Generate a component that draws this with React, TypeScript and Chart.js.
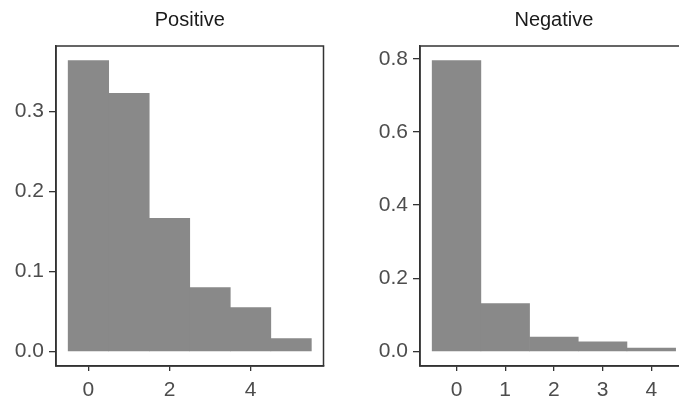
import React, { useEffect, useRef } from "react";
import { Chart, registerables } from "chart.js";

Chart.register(...registerables);

const posBins = [0, 1, 2, 3, 4, 5];
const posDensity = [0.364, 0.323, 0.1665, 0.08, 0.055, 0.016];
const posXTicks = [0, 2, 4];
const posYTicks = [0, 0.1, 0.2, 0.3];

const negBins = [0, 1, 2, 3, 4];
const negDensity = [0.795, 0.131, 0.039, 0.026, 0.009];
const negXTicks = [0, 1, 2, 3, 4];
const negYTicks = [0, 0.2, 0.4, 0.6, 0.8];

const FONT = "'Liberation Sans', Arial, sans-serif";
const BAR = "#898989";
const AXIS = "#333333";

function expand(min: number, max: number, f = 0.05) {
  const d = (max - min) * f;
  return [min - d, max + d];
}

type PanelProps = {
  title: string;
  bins: number[];
  values: number[];
  xTicks: number[];
  yTicks: number[];
  left: number;
  width: number;
  yAxisWidth: number;
  padRight: number;
};

function Panel(p: PanelProps) {
  const ref = useRef<HTMLCanvasElement | null>(null);
  useEffect(() => {
    if (!ref.current) return;
    const [xmin, xmax] = expand(Math.min(...p.bins) - 0.5, Math.max(...p.bins) + 0.5);
    const [ymin, ymax] = expand(0, Math.max(...p.values));
    const titlePlugin = {
      id: "panelTitle",
      afterDraw(chart: any) {
        const { ctx, chartArea } = chart;
        ctx.save();
        ctx.strokeStyle = AXIS;
        ctx.lineWidth = 1.5;
        ctx.strokeRect(chartArea.left, chartArea.top, chartArea.right - chartArea.left, chartArea.bottom - chartArea.top);
        ctx.fillStyle = "#1a1a1a";
        ctx.font = `20px ${FONT}`;
        ctx.textAlign = "center";
        ctx.textBaseline = "alphabetic";
        ctx.fillText(p.title, (chartArea.left + chartArea.right) / 2, 26);
        ctx.restore();
      },
    };
    const chart = new Chart(ref.current, {
      type: "bar",
      data: {
        datasets: [
          {
            data: p.bins.map((x, i) => ({ x, y: p.values[i] })),
            backgroundColor: BAR,
            borderWidth: 0,
            barPercentage: 1,
            categoryPercentage: 1,
          } as any,
        ],
      },
      options: {
        responsive: false,
        animation: false,
        devicePixelRatio: 1,
        layout: { padding: { top: 46, right: p.padRight, bottom: 0, left: 0 } },
        plugins: { legend: { display: false }, tooltip: { enabled: false }, title: { display: false } },
        scales: {
          x: {
            type: "linear",
            min: xmin,
            max: xmax,
            offset: false,
            afterBuildTicks: (s: any) => {
              s.ticks = p.xTicks.map((v) => ({ value: v }));
            },
            afterFit: (s: any) => {
              s.height = 35;
            },
            grid: { offset: false, drawOnChartArea: false, drawTicks: true, tickLength: 5, color: AXIS, lineWidth: 1.3 },
            border: { display: true, color: AXIS, width: 1.5 },
            ticks: {
              color: "#4d4d4d",
              font: { family: FONT, size: 21 },
              padding: 7,
              maxRotation: 0,
              autoSkip: false,
              callback: (v: any) => String(v),
            },
          },
          y: {
            type: "linear",
            min: ymin,
            max: ymax,
            afterBuildTicks: (s: any) => {
              s.ticks = p.yTicks.map((v) => ({ value: v }));
            },
            afterFit: (s: any) => {
              s.width = p.yAxisWidth;
            },
            grid: { drawOnChartArea: false, drawTicks: true, tickLength: 7, color: AXIS, lineWidth: 1.3 },
            border: { display: true, color: AXIS, width: 1.5 },
            ticks: {
              color: "#4d4d4d",
              font: { family: FONT, size: 21 },
              padding: 5,
              autoSkip: false,
              callback: (v: any) => Number(v).toFixed(1),
            },
          },
        },
      } as any,
      plugins: [titlePlugin],
    });
    return () => chart.destroy();
  }, []);
  return (
    <canvas
      ref={ref}
      width={p.width}
      height={401}
      style={{ position: "absolute", left: p.left, top: 0, width: p.width, height: 401 }}
    />
  );
}

export default function App() {
  return (
    <div
      style={{
        position: "fixed",
        left: 0,
        top: 0,
        width: 679,
        height: 401,
        overflow: "hidden",
        background: "#ffffff",
      }}
    >
      <Panel
        title="Positive"
        bins={posBins}
        values={posDensity}
        xTicks={posXTicks}
        yTicks={posYTicks}
        left={0}
        width={340}
        yAxisWidth={56}
        padRight={16.5}
      />
      <Panel
        title="Negative"
        bins={negBins}
        values={negDensity}
        xTicks={negXTicks}
        yTicks={negYTicks}
        left={360}
        width={340}
        yAxisWidth={60}
        padRight={12.2}
      />
    </div>
  );
}
